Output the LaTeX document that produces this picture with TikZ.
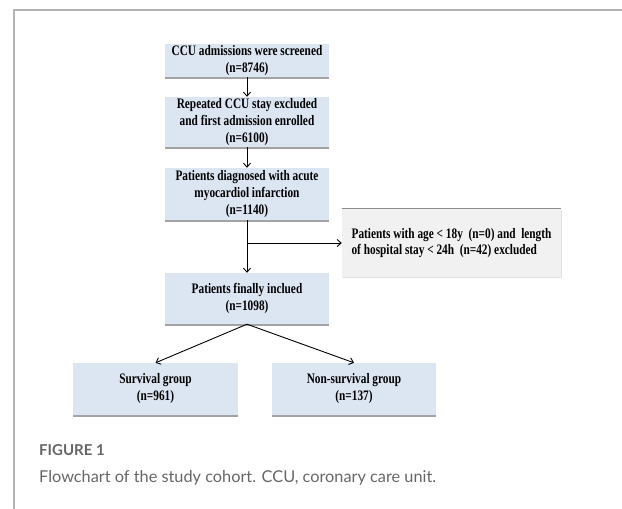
\documentclass[tikz,border=0pt]{standalone}
\usepackage{fontspec}
\usetikzlibrary{arrows.meta,shadows}
\newfontfamily\boxfont{Liberation Serif}[FakeStretch=0.78]
\newfontfamily\capfont{Lato}
\definecolor{boxblue}{HTML}{DCE6F2}
\definecolor{boxgray}{HTML}{F1F1F1}
\definecolor{framegray}{HTML}{B4B4B4}
\definecolor{capgray}{HTML}{666666}
\tikzset{
  flowbox/.style={fill=boxblue, draw=none, align=center, inner sep=0pt,
    font=\boxfont\bfseries\fontsize{14.5}{17}\selectfont,
    drop shadow={shadow xshift=0pt, shadow yshift=-1.6pt, fill=black!45, opacity=0.8}},
  exclbox/.style={fill=boxgray, draw=none, align=left, inner sep=0pt,
    font=\boxfont\bfseries\fontsize{14.5}{16.5}\selectfont,
    drop shadow={shadow xshift=1pt, shadow yshift=-1pt, fill=black!15, opacity=0.8}},
  conn/.style={draw=black, line width=0.9pt, -{Straight Barb[length=4pt,width=7pt]}},
  frameline/.style={draw=framegray, line width=1.5pt}
}
\begin{document}
\begin{tikzpicture}[x=1pt,y=-1pt]
\useasboundingbox (0,0) rectangle (622,509);
\coordinate (ftop) at (14,10);
\coordinate (fright) at (622,10);
\coordinate (fbot) at (14,509);
\draw[frameline] (fright) -- (ftop) -- (fbot);

\node[flowbox, minimum width=164pt, minimum height=33pt] (b1) at (247,60.5)
  {CCU admissions were screened\\(n=8746)};
\node[flowbox, minimum width=164pt, minimum height=50pt] (b2) at (247,122)
  {Repeated CCU stay excluded\\and first admission enrolled\\(n=6100)};
\node[flowbox, minimum width=164pt, minimum height=52pt] (b3) at (247,194)
  {Patients diagnosed with acute\\myocardiol infarction\\(n=1140)};
\node[exclbox, minimum width=219pt, minimum height=68pt] (b4) at (451.5,243)
  {Patients with age < 18y\ \ (n=0) and\ \ length\\of hospital stay < 24h\ \ (n=42) excluded};
\draw[draw=black!45, line width=1.2pt] (b4.north west) -- (b4.north east);
\node[flowbox, minimum width=164pt, minimum height=51pt] (b5) at (247,298.5)
  {Patients finally inclued\\(n=1098)};
\node[flowbox, minimum width=165pt, minimum height=52pt] (s) at (155.5,389)
  {Survival group\\(n=961)};
\node[flowbox, minimum width=164pt, minimum height=52pt] (ns) at (354,389)
  {Non-survival group\\(n=137)};

\draw[conn] (b1.south) -- (b2.north);
\draw[conn] (b2.south) -- (b3.north);
\draw[conn] (b3.south) -- (b5.north);
\draw[conn] (b3.south |- b4.west) -- (b4.west);
\draw[conn] (b5.south) -- (s.north);
\draw[conn] (b5.south) -- (ns.north);

\node[anchor=base west, inner sep=0pt, text=capgray, font=\capfont\bfseries\fontsize{15}{17}\selectfont] (fig) at (39,455) {FIGURE 1};
\node[anchor=base west, inner sep=0pt, text=capgray, font=\capfont\fontsize{16.3}{20}\selectfont] (cap) at (39,482) {Flowchart of the study cohort. CCU, coronary care unit.};
\end{tikzpicture}
\end{document}
